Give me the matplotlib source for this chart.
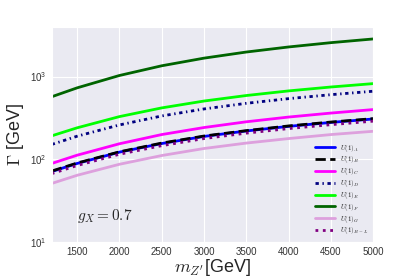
import numpy as np
import matplotlib
matplotlib.use("Agg")
import matplotlib.pyplot as plt
import seaborn as sns

sns.set_style("darkgrid")
plt.rcParams['font.family'] = ['Liberation Sans', 'DejaVu Sans']
plt.rcParams['mathtext.fontset'] = 'cm'

# Z' mass points [GeV]
mass = [1200, 1500, 2000, 2500, 3000, 3500, 4000, 4500, 5000]

# total widths [GeV]
width_A = [71, 89, 122, 155, 189, 220, 250, 279, 307]
width_B = [72, 90, 123, 157, 191, 222, 253, 282, 310]
width_C = [89, 112, 154, 199, 242, 284, 324, 362, 399]
width_D = [151, 190, 260, 334, 406, 475, 541, 604, 665]
width_E = [192, 240, 328, 418, 506, 590, 671, 748, 822]
width_F = [570, 730, 1030, 1350, 1670, 1980, 2280, 2570, 2850]
width_G = [51, 64, 87, 111, 135, 157, 178, 199, 218]
width_BL = [67, 84, 115, 146, 178, 207, 235, 262, 289]

fig = plt.figure(figsize=(4.15, 2.77), dpi=100)
ax = fig.add_axes([0.1246, 0.1264, 0.775, 0.777])

ax.plot(mass, width_A, color='blue', lw=2, label=r'$U(1)_A$')
ax.plot(mass, width_B, color='black', lw=2, ls='--', label=r'$U(1)_B$')
ax.plot(mass, width_C, color='magenta', lw=2, label=r'$U(1)_C$')
ax.plot(mass, width_D, color='navy', lw=2, ls=(0, (1.2, 1.3, 0.5, 1.3)), label=r'$U(1)_D$')
ax.plot(mass, width_E, color='lime', lw=2, label=r'$U(1)_E$')
ax.plot(mass, width_F, color='darkgreen', lw=2, label=r'$U(1)_F$')
ax.plot(mass, width_G, color='plum', lw=2, label=r'$U(1)_G$')
ax.plot(mass, width_BL, color='purple', lw=2, ls=':', label=r'$U(1)_{B-L}$')

ax.set_yscale('log')
ax.set_xlim(1200, 5000)
ax.set_ylim(10, 4000)
ax.set_xticks(range(1500, 5001, 500))
ax.tick_params(labelsize=7, colors='#333333', which='both', length=0)
ax.grid(False, which='minor')

ax.set_xlabel(r"$m_{Z'}$[GeV]", fontsize=13, labelpad=0)
ax.set_ylabel(r"$\Gamma$ [GeV]", fontsize=13, labelpad=3)
ax.text(1500, 18.5, r"$g_X = 0.7$", fontsize=11)

ax.legend(loc='lower right', fontsize=5, frameon=False, handlelength=2.8,
          labelspacing=0.12, borderaxespad=0.4, handletextpad=0.7)

fig.savefig("out.png", dpi=100)
